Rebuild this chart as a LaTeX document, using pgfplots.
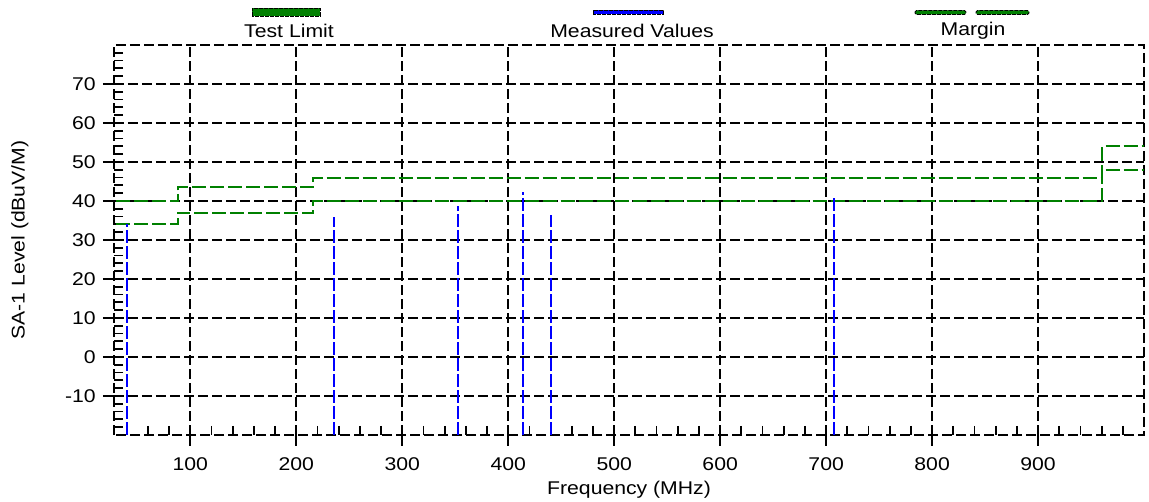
\documentclass[border=0pt]{standalone}
\usepackage{pgfplots}
\pgfplotsset{compat=1.18}
\usepackage{fontspec}
\setmainfont{Liberation Sans}[FakeStretch=1.15]
\definecolor{limgreen}{RGB}{0,128,0}
\definecolor{measblue}{RGB}{0,0,255}
\begin{document}
\fontsize{18.5}{22}\selectfont
\begin{tikzpicture}[x=1bp,y=1bp]
\path[use as bounding box] (-114,-67) rectangle (1035,435);
\begin{axis}[
  at={(0,0)}, anchor=south west,
  scale only axis, width=1030bp, height=390bp,
  xmin=28, xmax=1000, ymin=-20, ymax=80,
  xtick={100,200,...,900},
  ytick={-10,0,...,70},
  minor xtick={40,60,...,980},
  minor ytick={-18,-16,...,78},
  tick pos=left,
  tick align=outside,
  major tick length=11bp,
  minor tick length=-9bp,
  every tick/.style={black, solid, line width=1.8bp},
  grid=major,
  major grid style={black, line width=1.8bp, dash pattern=on 10bp off 4bp},
  axis line style={black, line width=1.8bp, dash pattern=on 10bp off 4bp},
  /pgf/number format/assume math mode=true,
  ticklabel style={font=\fontsize{18.5}{22}\selectfont},
  xticklabel style={yshift=-5bp},
  yticklabel style={xshift=-1bp},
  xlabel={Frequency (MHz)},
  ylabel={SA-1 Level (dBuV/M)},
  xlabel style={at={(axis description cs:0.5,0)}, anchor=center, yshift=-55bp, font=\fontsize{18.5}{22}\selectfont},
  ylabel style={at={(axis description cs:-0.0913,0.5)}, anchor=center, font=\fontsize{18.5}{22}\selectfont},
  unbounded coords=jump,
  clip=true,
]
% Test Limit
\addplot[limgreen, line width=2bp, dash pattern=on 14bp off 4bp, const plot] coordinates {
  (30,40) (88,43.5) (216,46) (960,54) (1000,54)
};
% Margin
\addplot[limgreen, line width=2bp, dash pattern=on 14bp off 4bp, const plot] coordinates {
  (30,34) (88,37) (216,40) (960,48) (1000,48)
};
% Measured values
\addplot[measblue, line width=2bp, dash pattern=on 13bp off 3bp] coordinates {
  (40,-20) (40,34) (nan,nan)
  (236,-20) (236,35.8) (nan,nan)
  (353,-20) (353,38.8) (nan,nan)
  (413.5,-20) (413.5,42.4) (nan,nan)
  (440,-20) (440,36.3) (nan,nan)
  (707.5,-20) (707.5,41.4)
};
\end{axis}
% legend
\draw[black, line width=0.8bp, dash pattern=on 4bp off 1bp, fill=limgreen] (138,419) rectangle (206,427);
\node at (175,404) {Test Limit};
\draw[black, line width=0.8bp, dash pattern=on 4bp off 1bp, fill=measblue] (479,420.5) rectangle (549,424.5);
\node at (518,404) {Measured Values};
\draw[black, line width=0.8bp, dash pattern=on 4bp off 1bp, fill=limgreen, rounded corners=1.5bp] (801,420.5) rectangle (852,424.5);
\draw[black, line width=0.8bp, dash pattern=on 4bp off 1bp, fill=limgreen, rounded corners=1.5bp] (862,420.5) rectangle (915,424.5);
\node at (859,404) {Margin};
\end{tikzpicture}
\end{document}
